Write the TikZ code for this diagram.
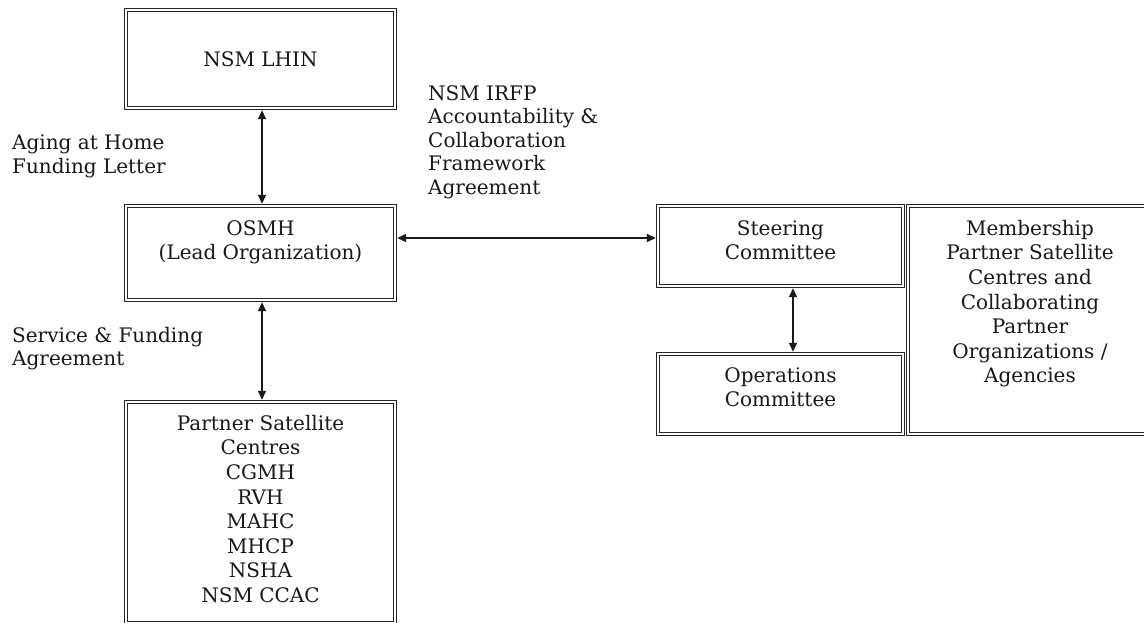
\documentclass[tikz,border=0pt]{standalone}
\usepackage{fontspec}
\setmainfont{DejaVu Serif}
\usetikzlibrary{arrows.meta}
\tikzset{
  dbox/.style={draw=black!85, double, double distance=2pt, line width=1.2pt, outer sep=2.2pt, inner sep=0pt},
  boxtext/.style={anchor=north, align=center, inner sep=0pt, text=black!90, font=\fontsize{20}{24.6}\selectfont},
  lbl/.style={anchor=north west, align=left, inner sep=0pt, text=black!90, font=\fontsize{20}{23.5}\selectfont},
  conn/.style={line width=1.4pt, black!90, {Triangle[length=9pt,width=8pt]}-{Triangle[length=9pt,width=8pt]}}
}
\begin{document}
\begin{tikzpicture}[x=1pt,y=-1pt]
\useasboundingbox (0,0) rectangle (1144,623);
\clip (0,0) rectangle (1144,623);
\fill[white] (0,0) rectangle (1144,623);
% boxes
\node[dbox, minimum width=269pt, minimum height=98pt, font=\fontsize{20}{24.6}\selectfont, text=black!90] (lhin) at (260.5,59) {NSM LHIN};
\node[dbox, minimum width=269pt, minimum height=94pt] (osmh) at (260.5,253) {};
\node[dbox, minimum width=269pt, minimum height=221pt] (psc) at (260.5,512.5) {};
\node[dbox, minimum width=245pt, minimum height=80pt] (steer) at (780.5,246) {};
\node[dbox, minimum width=245pt, minimum height=80pt] (ops) at (780.5,394) {};
\node[dbox, minimum width=247pt, minimum height=228pt] (memb) at (1031.5,320) {};
% box texts
\node[boxtext] (osmht) at (260.5,220) {OSMH\\(Lead Organization)};
\node[boxtext] (psct) at (260.5,415) {Partner Satellite\\Centres\\CGMH\\RVH\\MAHC\\MHCP\\NSHA\\NSM CCAC};
\node[boxtext] (steert) at (780.5,220) {Steering\\Committee};
\node[boxtext] (opst) at (780.5,367) {Operations\\Committee};
\node[boxtext] (membt) at (1030,220) {Membership\\Partner Satellite\\Centres and\\Collaborating\\Partner\\Organizations /\\Agencies};
% labels
\node[lbl] (aging) at (12,135) {Aging at Home\\Funding Letter};
\node[lbl] (service) at (12,327) {Service \& Funding\\Agreement};
\node[lbl] (irfp) at (428,85) {NSM IRFP\\Accountability \&\\Collaboration\\Framework\\Agreement};
% connectors
\draw[conn] ([xshift=1.5pt]lhin.south) -- ([xshift=1.5pt]osmh.north);
\draw[conn] ([xshift=1.5pt]osmh.south) -- ([xshift=1.5pt]psc.north);
\draw[conn] ([yshift=15pt]osmh.east) -- ([yshift=15pt]osmh.east -| steer.west);
\draw[conn] ([xshift=12.5pt]steer.south) -- ([xshift=12.5pt]ops.north);
\end{tikzpicture}
\end{document}
